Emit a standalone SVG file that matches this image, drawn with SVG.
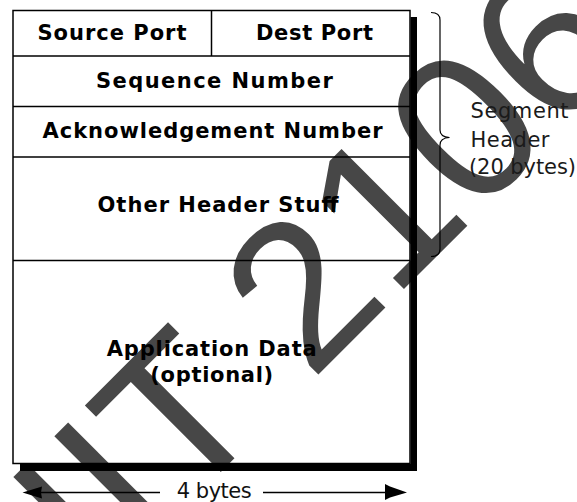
<svg xmlns="http://www.w3.org/2000/svg" width="577" height="502" viewBox="0 0 577 502">
<defs>
<style>
.line{fill:none;stroke:#000;stroke-width:1.5}
.shadow{fill:#000}
.lbl{font-family:"DejaVu Sans",sans-serif;font-weight:bold;font-size:21px;fill:#000;text-anchor:middle}
.side{font-family:"DejaVu Sans","Liberation Sans",sans-serif;font-size:21px;fill:#1a1a1a}
.wm{font-family:"Liberation Sans",Arial,sans-serif;font-size:208px;fill:#474747}
</style>
<filter id="soft" x="-5%" y="-5%" width="110%" height="110%"><feGaussianBlur stdDeviation="0.7"/></filter>
</defs>
<rect width="577" height="502" fill="#fff"/>
<g id="watermark" filter="url(#soft)">
<text class="wm" transform="rotate(-45)" x="-347" y="490">IIT 2106</text>
</g>
<g id="segment">
<g id="shadow">
<rect class="shadow" x="410.5" y="17" width="6.5" height="454"/>
<rect class="shadow" x="20" y="464" width="397" height="7"/>
</g>
<rect class="line" x="13" y="10.5" width="397" height="453"/>
</g>
<g id="source-port">
<line class="line" x1="211.5" y1="10.5" x2="211.5" y2="56"/>
<text class="lbl" x="112" y="39.5" textLength="149" lengthAdjust="spacing">Source Port</text>
</g>
<g id="dest-port">
<text class="lbl" x="314.5" y="39.5" textLength="117" lengthAdjust="spacing">Dest Port</text>
</g>
<g id="sequence-number">
<line class="line" x1="13" y1="56" x2="410" y2="56"/>
<text class="lbl" x="214.4" y="87.5" textLength="237" lengthAdjust="spacing">Sequence Number</text>
</g>
<g id="ack-number">
<line class="line" x1="13" y1="106.5" x2="410" y2="106.5"/>
<text class="lbl" x="212.5" y="138" textLength="340" lengthAdjust="spacing">Acknowledgement Number</text>
</g>
<g id="other-header">
<line class="line" x1="13" y1="157" x2="410" y2="157"/>
<text class="lbl" x="218" y="212" textLength="241" lengthAdjust="spacing">Other Header Stuff</text>
</g>
<g id="application-data">
<line class="line" x1="13" y1="260.5" x2="410" y2="260.5"/>
<text class="lbl" x="211.7" y="355.5" textLength="210" lengthAdjust="spacing">Application Data</text>
<text class="lbl" x="211.7" y="381.5" textLength="123" lengthAdjust="spacing">(optional)</text>
</g>
<g id="segment-header-label">
<text class="side" x="470.5" y="118" textLength="98" lengthAdjust="spacing">Segment</text>
<text class="side" x="470.5" y="147" textLength="79" lengthAdjust="spacing">Header</text>
<text class="side" x="469" y="174" textLength="107" lengthAdjust="spacing">(20 bytes)</text>
</g>
<g id="connectors">
<path class="line" style="stroke-width:1.2" d="M431,12.5 Q440,12.5 440,20 L440,130 Q440,137 449.5,137.5 Q440,138 440,145 L440,249 Q440,256.5 431,256.5"/>
<line class="line" x1="40" y1="492.5" x2="160" y2="492.5"/>
<polygon points="22.5,492.5 42,486.5 41,492.5 42,498.5" fill="#000"/>
<line class="line" x1="263" y1="492.5" x2="388" y2="492.5"/>
<polygon points="385,484 390,486.5 407,492.5 390,497.5 385,500" fill="#000"/>
</g>
<g id="width-label">
<text class="side" style="fill:#111" x="176.7" y="498" textLength="75" lengthAdjust="spacing">4 bytes</text>
</g>
</svg>
